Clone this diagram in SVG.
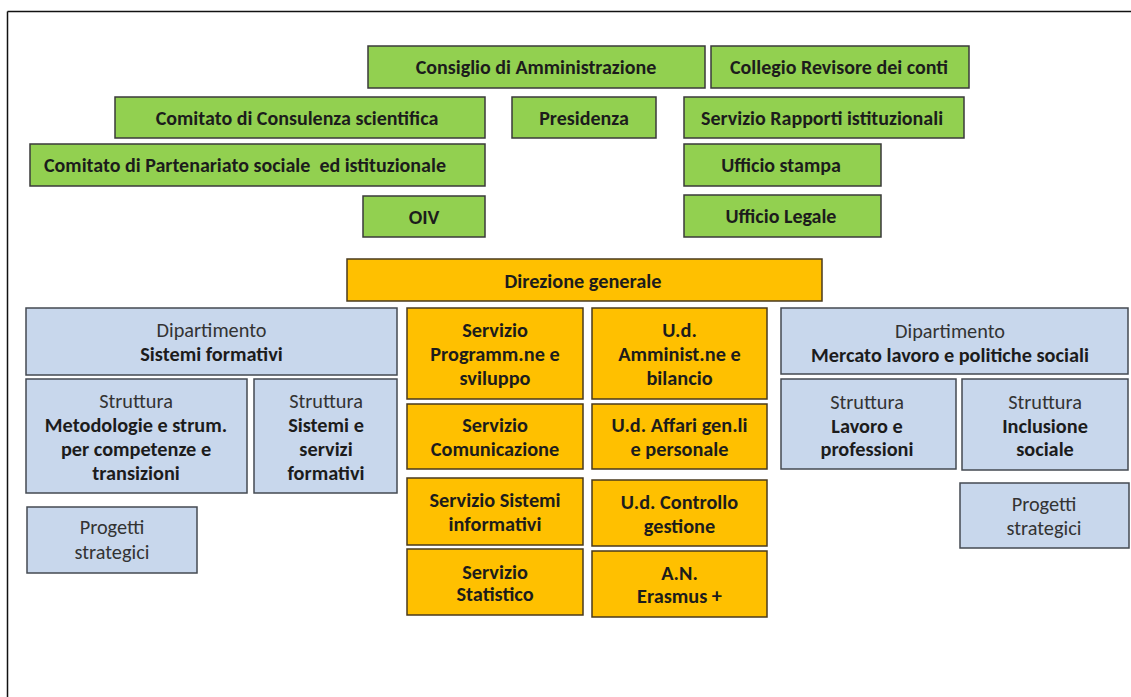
<svg xmlns="http://www.w3.org/2000/svg" width="1131" height="697" viewBox="0 0 1131 697">
<style>
  text { font-family: Carlito, Lato, "Liberation Sans", sans-serif; fill: #1c1c1c; text-anchor: middle; dominant-baseline: central; }
  .g rect { fill: #92D050; stroke: #3a3a3a; stroke-width: 1.5; }
  .o rect { fill: #FFC000; stroke: #4a3a1c; stroke-width: 1.5; }
  .b rect { fill: #C8D7EC; stroke: #444a52; stroke-width: 1.5; }
  .g text { font-size: 20px; font-weight: bold; }
  .o text { font-size: 20.3px; font-weight: bold; }
  .b text { font-size: 20.3px; }
  .b .bd { font-weight: bold; }
  .b .rg { fill: #333; }
</style>
<rect x="0" y="0" width="1131" height="697" fill="#ffffff"/>
<g id="frame" fill="none" stroke="#111" stroke-width="1.5">
  <line x1="7.5" y1="11.5" x2="1131" y2="11.5"/>
  <line x1="7.5" y1="11.5" x2="7.5" y2="697"/>
</g>
<g id="connectors"></g>

<g id="consiglio" class="g"><rect x="368" y="46" width="337" height="42"/><text x="536" y="67">Consiglio di Amministrazione</text></g>
<g id="collegio" class="g"><rect x="711" y="46" width="258" height="42"/><text x="839" y="67">Collegio Revisore dei conti</text></g>
<g id="comitato-consulenza" class="g"><rect x="115" y="97" width="370" height="41"/><text x="297" y="117.5">Comitato di Consulenza scientifica</text></g>
<g id="presidenza" class="g"><rect x="512" y="97" width="144" height="41"/><text x="584" y="117.5">Presidenza</text></g>
<g id="rapporti" class="g"><rect x="684" y="97" width="280" height="41"/><text x="822" y="117.5">Servizio Rapporti istituzionali</text></g>
<g id="partenariato" class="g"><rect x="30" y="144" width="455" height="42"/><text x="245" y="165" xml:space="preserve">Comitato di Partenariato sociale  ed istituzionale</text></g>
<g id="stampa" class="g"><rect x="684" y="144" width="197" height="42"/><text x="781" y="165">Ufficio stampa</text></g>
<g id="oiv" class="g"><rect x="363" y="196" width="122" height="41"/><text x="424" y="216.5">OIV</text></g>
<g id="legale" class="g"><rect x="684" y="195" width="197" height="42"/><text x="781" y="216">Ufficio Legale</text></g>

<g id="direzione" class="o"><rect x="347" y="259" width="475" height="42"/><text x="583" y="281">Direzione generale</text></g>
<g id="programmazione" class="o"><rect x="407" y="308" width="176" height="91"/><text x="495"><tspan x="495" y="330">Servizio</tspan><tspan x="495" y="354">Programm.ne e</tspan><tspan x="495" y="378">sviluppo</tspan></text></g>
<g id="amministrazione" class="o"><rect x="592" y="308" width="175" height="91"/><text x="679.5"><tspan x="679.5" y="330">U.d.</tspan><tspan x="679.5" y="354">Amminist.ne e</tspan><tspan x="679.5" y="378">bilancio</tspan></text></g>
<g id="comunicazione" class="o"><rect x="407" y="404" width="176" height="65"/><text x="495"><tspan x="495" y="425">Servizio</tspan><tspan x="495" y="449">Comunicazione</tspan></text></g>
<g id="affari" class="o"><rect x="592" y="404" width="175" height="65"/><text x="679.5"><tspan x="679.5" y="425">U.d. Affari gen.li</tspan><tspan x="679.5" y="449">e personale</tspan></text></g>
<g id="sistemi-informativi" class="o"><rect x="407" y="478" width="176" height="67"/><text x="495"><tspan x="495" y="500">Servizio Sistemi</tspan><tspan x="495" y="524">informativi</tspan></text></g>
<g id="controllo" class="o"><rect x="592" y="480" width="175" height="66"/><text x="679.5"><tspan x="679.5" y="502">U.d. Controllo</tspan><tspan x="679.5" y="526">gestione</tspan></text></g>
<g id="statistico" class="o"><rect x="407" y="549" width="176" height="66"/><text x="495"><tspan x="495" y="572">Servizio</tspan><tspan x="495" y="594">Statistico</tspan></text></g>
<g id="erasmus" class="o"><rect x="592" y="551" width="175" height="66"/><text x="679.5"><tspan x="679.5" y="573">A.N.</tspan><tspan x="679.5" y="596">Erasmus +</tspan></text></g>

<g id="dip-sistemi" class="b"><rect x="26" y="308" width="371" height="67"/><text x="211.5"><tspan class="rg" x="211.5" y="330">Dipartimento</tspan><tspan class="bd" x="211.5" y="354">Sistemi formativi</tspan></text></g>
<g id="metodologie" class="b"><rect x="26" y="379" width="221" height="114"/><text x="136"><tspan class="rg" x="136" y="401">Struttura</tspan><tspan class="bd" x="136" y="425">Metodologie e strum.</tspan><tspan class="bd" x="136" y="449">per competenze e</tspan><tspan class="bd" x="136" y="473">transizioni</tspan></text></g>
<g id="sistemi-servizi" class="b"><rect x="254" y="379" width="143" height="114"/><text x="326"><tspan class="rg" x="326" y="401">Struttura</tspan><tspan class="bd" x="326" y="425">Sistemi e</tspan><tspan class="bd" x="326" y="449">servizi</tspan><tspan class="bd" x="326" y="473">formativi</tspan></text></g>
<g id="progetti-sx" class="b"><rect x="27" y="507" width="170" height="66"/><text x="112"><tspan class="rg" x="112" y="527">Progetti</tspan><tspan class="rg" x="112" y="552">strategici</tspan></text></g>
<g id="dip-mercato" class="b"><rect x="781" y="308" width="347" height="66"/><text x="950"><tspan class="rg" x="950" y="331">Dipartimento</tspan><tspan class="bd" x="950" y="355">Mercato lavoro e politiche sociali</tspan></text></g>
<g id="lavoro" class="b"><rect x="781" y="379" width="175" height="90"/><text x="867"><tspan class="rg" x="867" y="402">Struttura</tspan><tspan class="bd" x="867" y="426">Lavoro e</tspan><tspan class="bd" x="867" y="449">professioni</tspan></text></g>
<g id="inclusione" class="b"><rect x="962" y="379" width="166" height="91"/><text x="1045"><tspan class="rg" x="1045" y="402">Struttura</tspan><tspan class="bd" x="1045" y="426">Inclusione</tspan><tspan class="bd" x="1045" y="449">sociale</tspan></text></g>
<g id="progetti-dx" class="b"><rect x="960" y="483" width="169" height="65"/><text x="1044"><tspan class="rg" x="1044" y="504">Progetti</tspan><tspan class="rg" x="1044" y="528">strategici</tspan></text></g>
</svg>
